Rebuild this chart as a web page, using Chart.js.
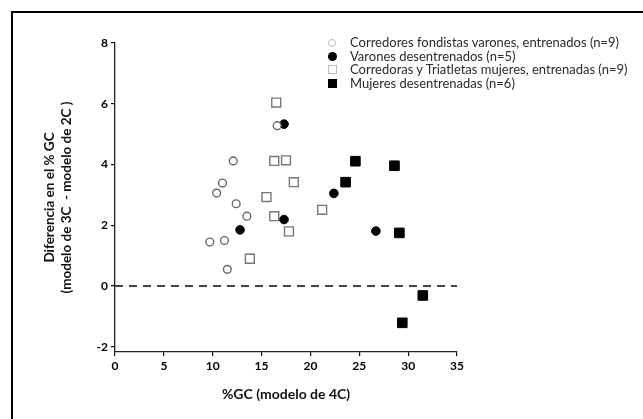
<!DOCTYPE html>
<html>
<head>
<meta charset="utf-8">
<script src="https://cdn.jsdelivr.net/npm/chart.js@4.4.1/dist/chart.umd.min.js"></script>
<style>
  html, body { margin:0; padding:0; background:#fff; }
  #wrap { position:relative; width:643px; height:419px; overflow:hidden; background:#fff; }
  #frame { position:absolute; left:11px; top:11px; width:700px; height:500px;
           border-top:2.5px solid #000; border-left:2.5px solid #000; box-sizing:border-box; }
  canvas { position:absolute; left:0; top:0; }
  #legend { position:absolute; left:327px; top:36px; font-family:Lato, "Open Sans", sans-serif;
            font-size:13px; color:#2a2a2a; line-height:13.5px; }
  #legend div { display:flex; align-items:center; white-space:nowrap; }
  #legend span.m { display:inline-block; width:10px; height:10px; margin-right:13px; box-sizing:border-box; }
</style>
</head>
<body>
<div id="wrap">
  <div id="frame"></div>
  <canvas id="c" width="643" height="419"></canvas>
  <div id="legend"></div>
</div>
<script>
// ---- data ----
const seriesLabels = [
  "Corredores fondistas varones, entrenados (n=9)",
  "Varones desentrenados (n=5)",
  "Corredoras y Triatletas mujeres, entrenadas (n=9)",
  "Mujeres desentrenadas (n=6)"
];
const trainedMenX = [12.1, 11.0, 10.4, 12.4, 13.5, 9.7, 11.2, 11.5, 16.6];
const trainedMenY = [4.12, 3.39, 3.06, 2.71, 2.30, 1.45, 1.50, 0.55, 5.28];
const untrainedMenX = [17.3, 12.8, 17.3, 22.4, 26.7];
const untrainedMenY = [5.33, 1.85, 2.19, 3.05, 1.81];
const trainedWomenX = [16.5, 16.3, 17.5, 18.3, 15.5, 16.3, 17.8, 13.8, 21.2];
const trainedWomenY = [6.04, 4.12, 4.14, 3.42, 2.93, 2.30, 1.80, 0.90, 2.51];
const untrainedWomenX = [24.6, 28.6, 23.6, 29.1, 31.5, 29.4];
const untrainedWomenY = [4.11, 3.96, 3.42, 1.75, -0.31, -1.21];
const zeroLineX = [0, 35];
const zeroLineY = [0, 0];
const xTicks = [0, 5, 10, 15, 20, 25, 30, 35];
const yTicks = [-2, 0, 2, 4, 6, 8];
const xTitle = "%GC (modelo de 4C)";
const yTitle = ["Diferencia en el % GC", "(modelo de 3C  - modelo de 2C )"];

const pts = (xs, ys) => xs.map((x, i) => ({x: x, y: ys[i]}));

const styles = [
  {pointStyle:'circle', pointRadius:3.9, borderColor:'#666', backgroundColor:'#fff', borderWidth:1.4},
  {pointStyle:'circle', pointRadius:4.3, borderColor:'#000', backgroundColor:'#000', borderWidth:1},
  {pointStyle:'rect', pointRadius:6.3, borderColor:'#777', backgroundColor:'#fff', borderWidth:1.4},
  {pointStyle:'rect', pointRadius:6.8, borderColor:'#000', backgroundColor:'#000', borderWidth:1}
];
const dataSets = [
  pts(trainedMenX, trainedMenY),
  pts(untrainedMenX, untrainedMenY),
  pts(trainedWomenX, trainedWomenY),
  pts(untrainedWomenX, untrainedWomenY)
];

const datasets = dataSets.map((d, i) => Object.assign({
  label: seriesLabels[i], data: d, showLine:false, pointHoverRadius: styles[i].pointRadius
}, styles[i]));
datasets.unshift({
  label: 'zero', data: pts(zeroLineX, zeroLineY), showLine:true, pointRadius:0,
  borderColor:'#444', borderWidth:2, borderDash:[8,6]
});

// ---- legend (HTML) ----
const legendMarkers = [
  'border:1.2px solid #bbb;border-radius:50%;width:8px;height:8px;margin-left:1px;margin-right:14px;',
  'background:#000;border-radius:50%;width:9px;height:9px;margin-left:1px;margin-right:13px;',
  'border:1.2px solid #bbb;width:9px;height:9px;margin-left:1px;margin-right:13px;',
  'background:#000;width:9px;height:9px;margin-left:1px;margin-right:13px;'
];
const legendEl = document.getElementById('legend');
seriesLabels.forEach((lab, i) => {
  const row = document.createElement('div');
  const m = document.createElement('span'); m.className = 'm'; m.style.cssText = legendMarkers[i];
  const t = document.createElement('span'); t.textContent = lab;
  row.appendChild(m); row.appendChild(t); legendEl.appendChild(row);
});

const FONT = 'Lato, "Open Sans", sans-serif';

new Chart(document.getElementById('c'), {
  type: 'scatter',
  data: { datasets: datasets },
  options: {
    responsive:false, animation:false, devicePixelRatio:1,
    layout: { padding: { top:43, right:186, left:0, bottom:0 } },
    plugins: { legend:{display:false}, tooltip:{enabled:false} },
    scales: {
      x: {
        type:'linear', min:0, max:35,
        afterBuildTicks: s => { s.ticks = xTicks.map(v => ({value:v})); },
        afterFit: s => { s.height = 67; },
        grid: { drawOnChartArea:false, drawTicks:true, tickLength:4, color:'#000', lineWidth:1.2 },
        border: { display:true, color:'#222', width:1.3 },
        ticks: { color:'#000', padding:3, font:{family:FONT, size:12, weight:'bold'} },
        title: { display:true, text:xTitle, color:'#111', padding:{top:0, bottom:16},
                 font:{family:FONT, size:14, weight:'bold', lineHeight:1.15} }
      },
      y: {
        type:'linear', min:-2.17, max:8,
        afterBuildTicks: s => { s.ticks = yTicks.map(v => ({value:v})); },
        afterFit: s => { s.width = 115; },
        grid: { drawOnChartArea:false, drawTicks:true, tickLength:4, color:'#000', lineWidth:1.2 },
        border: { display:true, color:'#222', width:1.3 },
        ticks: { color:'#000', padding:3, font:{family:FONT, size:12, weight:'bold'} },
        title: { display:true, text:yTitle, color:'#111', padding:{top:42, bottom:0},
                 font:{family:FONT, size:13.5, weight:'bold', lineHeight:1.2} }
      }
    }
  }
});
</script>
</body>
</html>
